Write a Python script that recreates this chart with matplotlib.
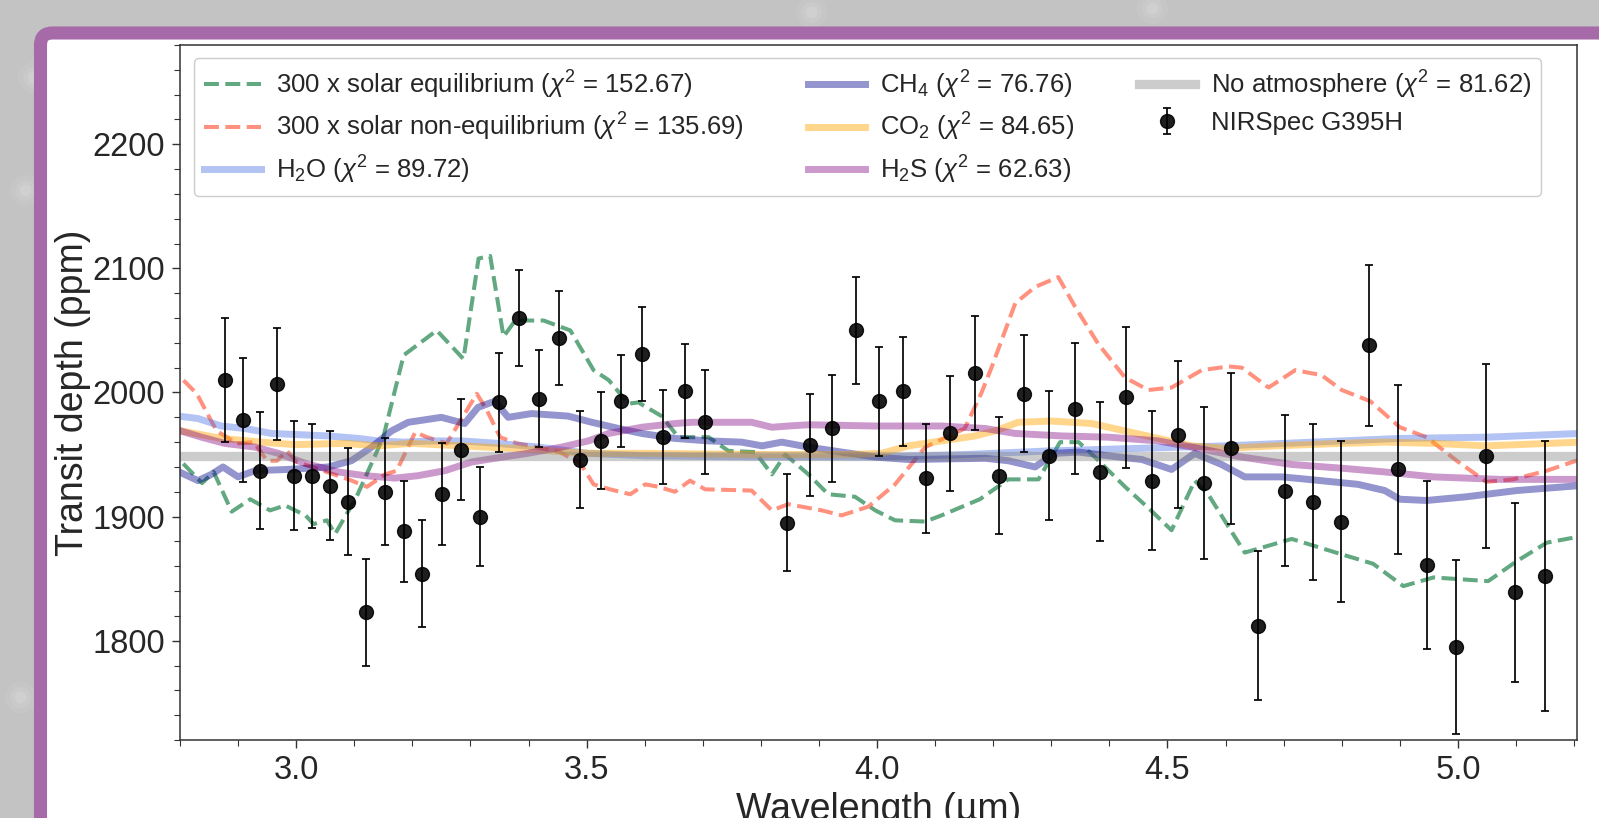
import numpy as np
import matplotlib
matplotlib.use("Agg")
import matplotlib.pyplot as plt
from matplotlib.patches import FancyBboxPatch

plt.rcParams['font.family'] = ['Liberation Sans', 'DejaVu Sans']
plt.rcParams['mathtext.fontset'] = 'custom'
plt.rcParams['mathtext.rm'] = 'Liberation Sans'
plt.rcParams['mathtext.it'] = 'Liberation Sans:italic'

# NIRSpec G395H transit depths
wl_data = [2.878, 2.908, 2.937, 2.967, 2.997, 3.028, 3.059, 3.090, 3.121, 3.153,
           3.185, 3.217, 3.251, 3.283, 3.317, 3.350, 3.384, 3.418, 3.453, 3.488,
           3.524, 3.559, 3.596, 3.632, 3.669, 3.703,
           3.845, 3.884, 3.923, 3.963, 4.003, 4.044, 4.085, 4.126, 4.168, 4.210,
           4.253, 4.296, 4.340, 4.384, 4.428, 4.473, 4.518, 4.563, 4.610, 4.656,
           4.703, 4.751, 4.799, 4.847, 4.897, 4.946, 4.997, 5.048, 5.098, 5.150]
depth_data = [2010, 1978, 1937, 2007, 1933, 1933, 1925, 1912, 1823, 1920,
              1888, 1854, 1918, 1954, 1900, 1992, 2060, 1995, 2044, 1946,
              1961, 1993, 2031, 1964, 2001, 1976,
              1895, 1958, 1971, 2050, 1993, 2001, 1931, 1967, 2016, 1933,
              1999, 1949, 1987, 1936, 1996, 1929, 1966, 1927, 1955, 1812,
              1921, 1912, 1896, 2038, 1938, 1861, 1795, 1949, 1839, 1852]
err_data = [50, 50, 47, 45, 44, 42, 44, 43, 43, 43,
            41, 43, 41, 41, 40, 40, 39, 39, 38, 39,
            39, 37, 38, 38, 38, 42,
            39, 41, 43, 43, 44, 44, 44, 46, 46, 47,
            47, 52, 53, 56, 57, 56, 59, 61, 61, 60,
            61, 63, 65, 65, 68, 68, 70, 74, 72, 109]

# models
eq_wl = [2.78, 2.838, 2.858, 2.889, 2.921, 2.955, 2.981, 3.016, 3.030, 3.053,
         3.067, 3.104, 3.150, 3.185, 3.242, 3.288, 3.314, 3.334, 3.357, 3.377,
         3.426, 3.472, 3.512, 3.538, 3.572, 3.589, 3.629, 3.658, 3.710, 3.744,
         3.790, 3.819, 3.842, 3.882, 3.916, 3.962, 3.997, 4.031, 4.083, 4.111,
         4.177, 4.226, 4.278, 4.315, 4.347, 4.375, 4.427, 4.467, 4.507, 4.547,
         4.570, 4.633, 4.714, 4.797, 4.854, 4.906, 4.958, 5.052, 5.101, 5.153, 5.21]
eq_depth = [1955, 1927, 1936, 1904, 1914, 1905, 1909, 1901, 1894, 1897,
            1886, 1916, 1964, 2030, 2050, 2027, 2108, 2110, 2045, 2058,
            2058, 2050, 2018, 2010, 1991, 1992, 1981, 1964, 1964, 1953,
            1952, 1934, 1950, 1934, 1918, 1916, 1905, 1897, 1896, 1901,
            1914, 1930, 1930, 1960, 1960, 1948, 1924, 1907, 1889, 1929,
            1918, 1871, 1882, 1870, 1862, 1844, 1851, 1848, 1864, 1879, 1884]

neq_wl = [2.78, 2.829, 2.863, 2.898, 2.927, 2.950, 2.967, 2.984, 3.001, 3.04,
          3.09, 3.122, 3.153, 3.173, 3.205, 3.225, 3.259, 3.311, 3.328, 3.351,
          3.380, 3.414, 3.454, 3.489, 3.512, 3.540, 3.575, 3.601, 3.624, 3.652,
          3.678, 3.704, 3.784, 3.819, 3.847, 3.905, 3.939, 3.985, 4.031, 4.083,
          4.151, 4.180, 4.197, 4.238, 4.272, 4.312, 4.341, 4.381, 4.427, 4.467,
          4.507, 4.559, 4.605, 4.628, 4.674, 4.720, 4.765, 4.800, 4.849, 4.900,
          4.946, 4.998, 5.049, 5.095, 5.153, 5.21]
neq_depth = [2022, 1999, 1969, 1959, 1960, 1945, 1945, 1953, 1944, 1938,
             1930, 1924, 1934, 1937, 1968, 1964, 1959, 1999, 1986, 1964,
             1959, 1956, 1952, 1943, 1926, 1922, 1918, 1926, 1924, 1920,
             1929, 1922, 1921, 1905, 1910, 1905, 1901, 1908, 1926, 1956,
             1971, 2000, 2020, 2072, 2085, 2093, 2069, 2039, 2012, 2002,
             2004, 2018, 2021, 2020, 2004, 2018, 2014, 2002, 1993, 1972,
             1964, 1945, 1928, 1930, 1937, 1946]

h2o_wl = [2.78, 2.831, 2.871, 2.912, 2.958, 3.055, 3.107, 3.141, 3.187, 3.233,
          3.285, 3.348, 3.417, 3.503, 3.6, 3.8, 4.0, 4.15, 4.3, 4.45,
          4.6, 4.75, 4.9, 5.05, 5.21]
h2o_depth = [1982, 1979, 1973, 1971, 1967, 1965, 1963, 1961, 1960, 1961,
             1961, 1959, 1956, 1951, 1949, 1948, 1948, 1950, 1953, 1955,
             1957, 1960, 1963, 1964, 1967]

ch4_wl = [2.78, 2.831, 2.854, 2.874, 2.90, 2.929, 2.986, 3.055, 3.095, 3.130,
          3.164, 3.193, 3.25, 3.29, 3.313, 3.342, 3.365, 3.405, 3.468, 3.509,
          3.555, 3.595, 3.652, 3.710, 3.767, 3.802, 3.836, 3.882, 3.939, 3.997,
          4.054, 4.186, 4.226, 4.272, 4.306, 4.347, 4.398, 4.456, 4.507, 4.547,
          4.593, 4.633, 4.697, 4.742, 4.828, 4.874, 4.9, 4.946, 5.015, 5.101, 5.21]
ch4_depth = [1940, 1929, 1934, 1940, 1932, 1937, 1938, 1940, 1945, 1956,
             1969, 1976, 1980, 1975, 1988, 1993, 1980, 1983, 1981, 1976,
             1971, 1967, 1963, 1961, 1960, 1957, 1960, 1956, 1952, 1948,
             1946, 1947, 1945, 1940, 1951, 1952, 1949, 1946, 1938, 1951,
             1942, 1932, 1932, 1930, 1926, 1921, 1914, 1913, 1916, 1921, 1925]

co2_wl = [2.78, 2.871, 2.94, 2.998, 3.084, 3.141, 3.198, 3.285, 3.371, 3.503,
          3.6, 3.8, 3.95, 4.008, 4.054, 4.111, 4.169, 4.203, 4.243, 4.30,
          4.37, 4.427, 4.484, 4.542, 4.599, 4.685, 4.80, 4.874, 4.958, 5.049, 5.21]
co2_depth = [1971, 1963, 1960, 1958, 1959, 1957, 1959, 1957, 1955, 1951,
             1951, 1950, 1950, 1951, 1957, 1961, 1965, 1969, 1976, 1977,
             1975, 1969, 1963, 1957, 1955, 1957, 1959, 1960, 1959, 1957, 1960]

h2s_wl = [2.78, 2.837, 2.877, 2.929, 2.969, 3.015, 3.072, 3.118, 3.17, 3.21,
          3.256, 3.302, 3.342, 3.399, 3.457, 3.503, 3.538, 3.595, 3.652, 3.681,
          3.784, 3.819, 3.847, 3.882, 3.997, 4.111, 4.186, 4.238, 4.318, 4.398,
          4.484, 4.542, 4.628, 4.714, 4.80, 4.874, 4.958, 5.072, 5.21]
h2s_depth = [1972, 1964, 1959, 1956, 1951, 1943, 1936, 1933, 1931, 1933,
             1937, 1944, 1947, 1951, 1956, 1961, 1967, 1972, 1975, 1976,
             1976, 1972, 1973, 1974, 1973, 1973, 1971, 1967, 1965, 1964,
             1961, 1956, 1948, 1942, 1939, 1936, 1932, 1930, 1930]

flat_wl = [2.78, 5.21]
flat_depth = [1949, 1949]

labels = [r'300 x solar equilibrium ($\chi^2$ = 152.67)',
          r'300 x solar non-equilibrium ($\chi^2$ = 135.69)',
          r'H$_2$O ($\chi^2$ = 89.72)',
          r'CH$_4$ ($\chi^2$ = 76.76)',
          r'CO$_2$ ($\chi^2$ = 84.65)',
          r'H$_2$S ($\chi^2$ = 62.63)',
          r'No atmosphere ($\chi^2$ = 81.62)',
          'NIRSpec G395H']

W, H = 1599, 818
fig = plt.figure(figsize=(W/100., H/100.), dpi=100, facecolor='#c3c3c3')

# background: grey page with purple framed panel
bg = fig.add_axes([0, 0, 1, 1])
bg.set_xlim(0, W)
bg.set_ylim(H, 0)
bg.axis('off')
bg.patch.set_alpha(0)
for sx, sy in [(33, 77), (25, 190), (20, 697), (811, 12), (1152, 8)]:
    for ss, aa in [(500, 0.06), (220, 0.08), (70, 0.12)]:
        bg.scatter([sx], [sy], s=ss, color='white', alpha=aa, lw=0)
frame = FancyBboxPatch((40.5, 33), 1700, 900, boxstyle="round,pad=0,rounding_size=12",
                       fc='white', ec='#a66aa8', lw=9.4)
bg.add_patch(frame)

ax = fig.add_axes([180/W, 78/H, 1397/W, 695/H])
ax.set_facecolor('white')

l1, = ax.plot(eq_wl, eq_depth, '--', color='seagreen', alpha=0.75, lw=2.9)
l2, = ax.plot(neq_wl, neq_depth, '--', color='tomato', alpha=0.7, lw=2.9)
l3, = ax.plot(h2o_wl, h2o_depth, '-', color='royalblue', alpha=0.4, lw=5)
l4, = ax.plot(ch4_wl, ch4_depth, '-', color='darkblue', alpha=0.42, lw=5)
l5, = ax.plot(co2_wl, co2_depth, '-', color='orange', alpha=0.45, lw=5)
l6, = ax.plot(h2s_wl, h2s_depth, '-', color='purple', alpha=0.4, lw=5)
l7, = ax.plot(flat_wl, flat_depth, '-', color='grey', alpha=0.4, lw=6.7)
eb = ax.errorbar(wl_data, depth_data, yerr=err_data, fmt='o', color='k', alpha=0.88,
                 ms=10, elinewidth=1.4, capsize=3, capthick=1.4)

ax.set_xlim(2.8, 5.205)
ax.set_ylim(1720, 2280)
ax.set_xticks([3.0, 3.5, 4.0, 4.5, 5.0])
ax.set_xticks(np.arange(2.8, 5.21, 0.1), minor=True)
ax.set_yticks([1800, 1900, 2000, 2100, 2200])
ax.set_yticks(np.arange(1720, 2281, 20), minor=True)
ax.tick_params(which='both', direction='out', color='#333333', labelcolor='#262626')
ax.tick_params(which='major', length=6, width=1, labelsize=23.5, pad=5)
ax.tick_params(which='minor', length=4, width=0.8)
for s in ax.spines.values():
    s.set_color('#333333')
    s.set_linewidth(1.1)

ax.set_xlabel(u'Wavelength (\u00b5m)', fontsize=27, color='#262626')
ax.set_ylabel('Transit depth (ppm)', fontsize=27, color='#262626', labelpad=1)

leg = ax.legend([l1, l2, l3, l4, l5, l6, l7, eb], labels, ncol=3, fontsize=18.5,
                loc='upper left', bbox_to_anchor=(0.01, 0.981), borderaxespad=0,
                handlelength=2.2, handletextpad=0.6, columnspacing=2.5,
                labelspacing=0.4, frameon=True, fancybox=True,
                edgecolor='#cccccc', framealpha=1)
for t in leg.get_texts():
    t.set_color('#262626')

fig.savefig('out.png', dpi=100, facecolor=fig.get_facecolor())
